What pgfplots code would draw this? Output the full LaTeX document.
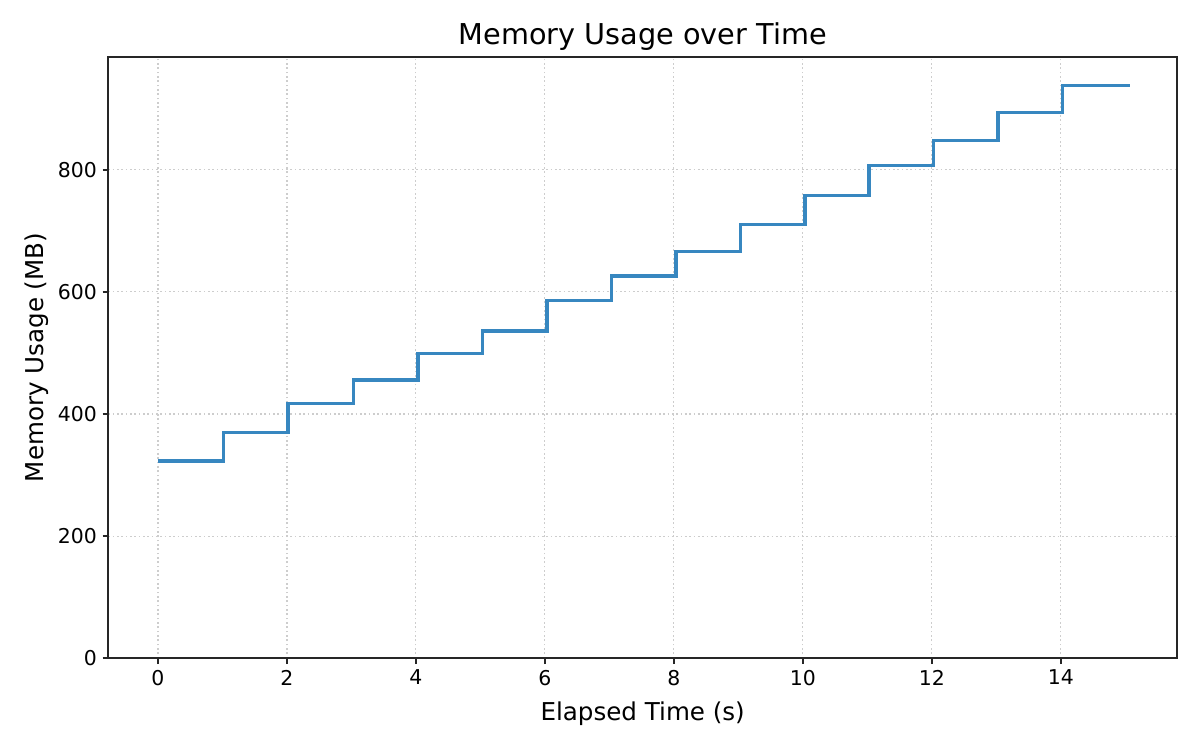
\documentclass[border=0pt]{standalone}
\usepackage{pgfplots}
\pgfplotsset{compat=1.18}
\usepackage{fontspec}
\setmainfont{DejaVu Sans}
\definecolor{stepblue}{RGB}{55,135,192}
\definecolor{axisgray}{RGB}{38,38,38}
\definecolor{gridgray}{RGB}{205,205,205}
\begin{document}
\begin{tikzpicture}
\begin{axis}[
  name=ax,
  at={(0,0)}, anchor=south west,
  scale only axis,
  width=641bp, height=361bp,
  xmin=-0.767, xmax=15.8,
  ymin=0, ymax=985,
  xtick={0,2,4,6,8,10,12,14},
  ytick={0,200,400,600,800},
  axis line style={axisgray, line width=1.2bp},
  tick style={axisgray, line width=1.2bp},
  tick align=outside,
  major tick length=3.5bp,
  xtick pos=bottom, ytick pos=left,
  grid=major,
  major grid style={gridgray, dash pattern=on 1bp off 1.6bp, line width=0.7bp},
  tick label style={font=\fontsize{12.3}{14}\selectfont, text=black},
  /pgf/number format/assume math mode=true,
  xlabel={Elapsed Time (s)},
  ylabel={Memory Usage (MB)},
  label style={font=\fontsize{14.8}{17}\selectfont},
  xlabel style={at={(axis description cs:0.5,0)}, anchor=center, yshift=-33bp},
  ylabel style={at={(axis description cs:0,0.5)}, anchor=center, yshift=43bp},
  title={Memory Usage over Time},
  title style={font=\fontsize{17.3}{20}\selectfont, at={(axis description cs:0.5,1)}, anchor=center, yshift=6bp},
]
\addplot[const plot, color=stepblue, line width=2.1bp, no marks]
coordinates {
  (0,323)(1.02,369.6)(2.02,417)(3.03,455.6)(4.03,498.7)(5.03,535.9)
  (6.03,585.5)(7.03,625.9)(8.03,665.7)(9.03,709.9)(10.03,757.4)
  (11.03,806.5)(12.03,847.4)(13.03,893.3)(14.03,937.5)(15.07,937.5)
};
\end{axis}
\path[use as bounding box] (-65.1bp,-55bp) rectangle (654.9bp,395bp);
\end{tikzpicture}
\end{document}
